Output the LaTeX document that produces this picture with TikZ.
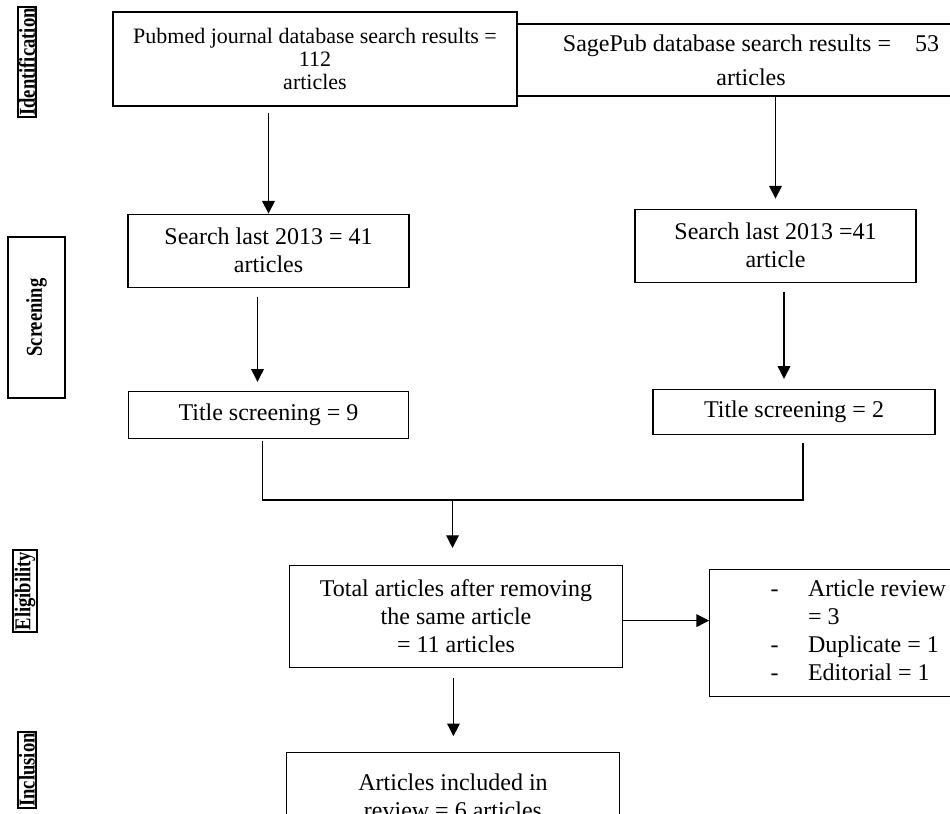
\documentclass[tikz,border=0pt]{standalone}
\usepackage{fontspec}
\setmainfont{Liberation Serif}
\usepackage{graphicx}
\usepackage{tikz}
\usetikzlibrary{arrows.meta, positioning}
\newcommand{\tagtext}[1]{\scalebox{0.82}[1]{#1}}
\tikzstyle{process} = [rectangle,
inner sep=0pt,
text centered,
align=center,
draw=black,
line width=0.9pt,
fill=white,
font=\fontsize{18}{21}\selectfont]
\tikzstyle{stagetag} = [rectangle,
rotate=90,
inner sep=1pt,
draw=black,
line width=1.5pt,
font=\bfseries\fontsize{17}{19}\selectfont]
\tikzstyle{arrow} = [line width=0.9pt,-{Triangle[length=9.5pt,width=9.5pt]}]
\tikzstyle{line} = [line width=0.9pt]

\begin{document}
\begin{tikzpicture}
            \useasboundingbox (0,0) rectangle (712.5pt,-610.5pt);
            % phase tags
            \node (idtag) [stagetag] at (20.25pt,-46.5pt) {\tagtext{Identification}};
            \node (scrtag) [stagetag, line width=0.9pt, minimum width=120.75pt, minimum height=42.75pt] at (27.4pt,-238.1pt) {\tagtext{Screening}};
            \node (eltag) [stagetag] at (18.75pt,-443.25pt) {\tagtext{Eligibility}};
            \node (inctag) [stagetag] at (20.25pt,-577.5pt) {\tagtext{Inclusion}};

            \node (sage) [process, minimum width=372pt, minimum height=54pt, font=\fontsize{18}{25.5}\selectfont] at (563.25pt,-45pt) {SagePub database search results =\quad 53\\articles};
            \node (pub) [process, minimum width=303pt, minimum height=70.5pt, font=\fontsize{16.5}{17.25}\selectfont] at (236.25pt,-44.25pt) {Pubmed journal database search results =\\112\\articles};
            \node (sl) [process, below=80.25pt of pub, xshift=-34.875pt, minimum width=210.75pt, minimum height=54.75pt] {Search last 2013 = 41\\articles};
            \node (t9) [process, below=77.25pt of sl, minimum width=210pt, minimum height=35.25pt] {Title screening = 9};
            \node (sr) [process, below=84pt of sage, xshift=18.375pt, minimum width=210.75pt, minimum height=54.75pt] {Search last 2013 =41\\article};
            \node (t2) [process, below=79.5pt of sr, xshift=13.875pt, minimum width=211.5pt, minimum height=33.75pt] {Title screening = 2};
            \node (tot) [process, below=94.5pt of t9, xshift=140.625pt, minimum width=249.75pt, minimum height=76.5pt] {Total articles after removing\\the same article\\= 11 articles};
            \node (ex) [process, right=64.5pt of tot, yshift=-12.375pt, minimum width=183pt, minimum height=95.25pt] {\hspace*{40pt}\begin{tabular}{@{}c@{\hspace{22pt}}l@{}}
                -&Article review\\
                &= 3\\
                -&Duplicate = 1\\
                -&Editorial = 1
            \end{tabular}};
            \node (inc) [process, below=63pt of tot, xshift=-2.25pt, minimum width=249.75pt, minimum height=64.5pt] {Articles included in\\review = 6 articles};
            \coordinate (merge) at ([xshift=-2.6pt, yshift=48.75pt]tot.north);

            \draw [arrow, shorten <=4.5pt] (sl.north |- pub.south) -- (sl.north);
            \draw [arrow, shorten >=7.5pt] (sage.south -| sr.north) -- (sr.north);
            \draw [arrow, shorten <=6.75pt, shorten >=6.75pt] ([xshift=-8.25pt]sl.south) -- ([xshift=-8.25pt]sl.south |- t9.north);
            \draw [arrow, shorten <=6.75pt, shorten >=7.5pt] ([xshift=6.375pt]sr.south) -- ([xshift=6.375pt]sr.south |- t2.north);
            \draw [line, shorten <=1.5pt, shorten >=6pt] ([xshift=-4.5pt]t9.south) |- (merge) -| ([xshift=6.75pt]t2.south);
            \draw [arrow, shorten >=12.75pt] (merge) -- (merge |- tot.north);
            \draw [arrow] ([yshift=-3pt]tot.east) -- ([yshift=-3pt]tot.east -| ex.west);
            \draw [arrow, shorten <=7.5pt, shorten >=12pt] ([xshift=-1.9pt]tot.south) -- ([xshift=-1.9pt]tot.south |- inc.north);
\end{tikzpicture}
\end{document}
